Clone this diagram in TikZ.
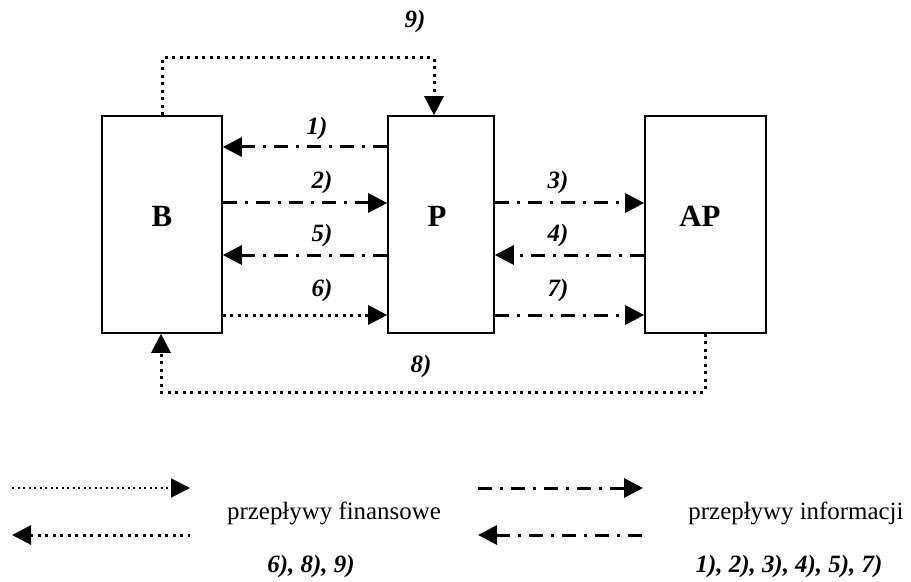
\documentclass[tikz,border=0pt]{standalone}
\usepackage{fontspec}
\setmainfont{Liberation Serif}
\usetikzlibrary{arrows.meta}
\begin{document}
\begin{tikzpicture}[x=1bp,y=-1bp,
  box/.style={draw,line width=1.6bp,inner sep=0pt,minimum height=217bp},
  boxtxt/.style={font=\fontsize{31}{36}\selectfont\bfseries},
  lbl/.style={font=\fontsize{25}{30}\selectfont\bfseries\itshape,inner sep=0pt},
  legtxt/.style={font=\fontsize{25}{30}\selectfont,inner sep=0pt},
  tip/.style={-{Triangle[length=19bp,width=19bp]}},
  rtip/.style={{Triangle[length=19bp,width=19bp]}-},
  info/.style={line width=3bp,dash pattern=on 14bp off 8bp on 3bp off 8bp},
  fin/.style={line width=3bp,dash pattern=on 3bp off 4.5bp},
  finthin/.style={line width=2bp,dash pattern=on 2bp off 3.5bp},
  fincorner/.style={line width=3bp,dash pattern=on 3bp off 4.5bp,line join=miter}
]
\useasboundingbox (0,0) rectangle (911,582);

% boxes
\node[box,minimum width=120bp] (B) at (162,224.5) {};
\node[box,minimum width=106bp] (P) at (441,224.5) {};
\node[box,minimum width=121bp] (AP) at (705.5,224.5) {};
\node[boxtxt] (Bt) at (162,216) {B};
\node[boxtxt] (Pt) at (437,216) {P};
\node[boxtxt] (APt) at (700,216) {AP};

% information flows
\draw[info,tip] (P.west |- 0,147) -- (B.east |- 0,147);
\draw[info,tip] (B.east |- 0,203) -- (P.west |- 0,203);
\draw[info,tip] (P.west |- 0,255) -- (B.east |- 0,255);
\draw[fin,tip]  (B.east |- 0,315) -- (P.west |- 0,315);
\draw[info,tip] (P.east |- 0,203) -- (AP.west |- 0,203);
\draw[info,tip] (AP.west |- 0,255) -- (P.east |- 0,255);
\draw[info,tip] (P.east |- 0,315) -- (AP.west |- 0,315);

% financial loops
\draw[fincorner,tip] (B.north) -- (162,58) -- (434,58) -- (P.north -| 434,0);
\draw[fincorner,tip] (AP.south -| 705,0) -- (705,392) -- (161,392) -- (B.south -| 161,0);

% labels
\node[lbl] (l1) at (317,129) {1)};
\node[lbl] (l2) at (322,183) {2)};
\node[lbl] (l5) at (322,236) {5)};
\node[lbl] (l6) at (322,291) {6)};
\node[lbl] (l3) at (558,183) {3)};
\node[lbl] (l4) at (558,236) {4)};
\node[lbl] (l7) at (558,291) {7)};
\node[lbl] (l8) at (421,367) {8)};
\node[lbl] (l9) at (415,22) {9)};

% legend
\coordinate (fa1) at (12,488);
\coordinate (fb1) at (190,488);
\coordinate (fa2) at (12,535);
\coordinate (fb2) at (190,535);
\coordinate (ia1) at (478,488);
\coordinate (ib1) at (643,488);
\coordinate (ia2) at (478,535);
\coordinate (ib2) at (645,535);
\draw[finthin,tip] (fa1) -- (fb1);
\draw[fin,rtip] (fa2) -- (fb2);
\draw[info,tip] (ia1) -- (ib1);
\draw[info,rtip] (ia2) -- (ib2);

\node[legtxt] (tf) at (334,513) {przepływy finansowe};
\node[legtxt] (ti) at (796,513) {przepływy informacji};
\node[lbl] (nf) at (311,567) {6), 8), 9)};
\node[lbl] (ni) at (789,567) {1), 2), 3), 4), 5), 7)};
\end{tikzpicture}
\end{document}
